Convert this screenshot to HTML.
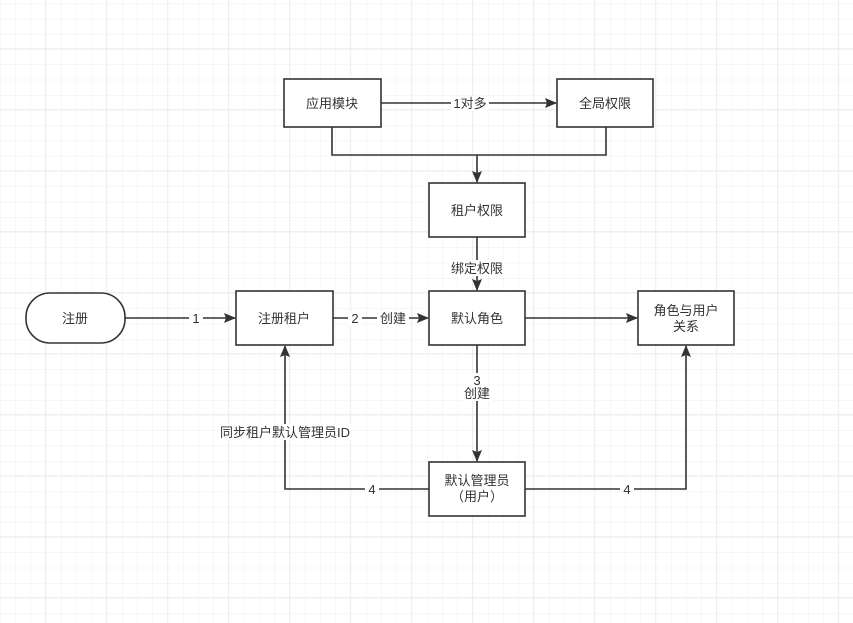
<!DOCTYPE html>
<html><head><meta charset="utf-8"><style>
html,body{margin:0;padding:0;background:#fff;}
svg{display:block;}
text{font-family:"Liberation Sans","Noto Sans CJK SC",sans-serif;font-size:13px;fill:#333;}
</style></head><body>
<svg width="853" height="623" viewBox="0 0 853 623" xmlns="http://www.w3.org/2000/svg">
<defs>
<pattern id="g" x="0.5" y="3.5" width="15.25" height="15.25" patternUnits="userSpaceOnUse">
<path d="M15.25 0V15.25M0 0H15.25" stroke="#efefef" stroke-width="1" fill="none"/>
</pattern>
<pattern id="G" x="-15" y="-12" width="61" height="61" patternUnits="userSpaceOnUse">
<path d="M61 0V61M0 61H61" stroke="#e2e2e2" stroke-width="1" fill="none"/>
</pattern>
<marker id="a" markerWidth="12" markerHeight="12" refX="11" refY="5" orient="auto" markerUnits="userSpaceOnUse">
<path d="M0,0 L12,5 L0,10 L2,5 Z" fill="#333"/>
</marker>
</defs>
<rect width="853" height="623" fill="url(#g)"/>
<rect width="853" height="623" fill="url(#G)"/>
<g stroke="#333" stroke-width="1.6" fill="none">
<path d="M381 103H556" marker-end="url(#a)"/>
<path d="M332 127V155H606V127"/>
<path d="M477 155V182" marker-end="url(#a)"/>
<path d="M477 237V290" marker-end="url(#a)"/>
<path d="M125 318H235" marker-end="url(#a)"/>
<path d="M333 318H428" marker-end="url(#a)"/>
<path d="M525 318H637" marker-end="url(#a)"/>
<path d="M477 345V461" marker-end="url(#a)"/>
<path d="M429 489H285V346" marker-end="url(#a)"/>
<path d="M525 489H686V346" marker-end="url(#a)"/>
</g>
<g fill="#fff" stroke="#333" stroke-width="1.6">
<rect x="284" y="79" width="97" height="48"/>
<rect x="557" y="79" width="96" height="48"/>
<rect x="429" y="183" width="96" height="54"/>
<rect x="236" y="291" width="97" height="54"/>
<rect x="429" y="291" width="96" height="54"/>
<rect x="638" y="291" width="96" height="54"/>
<rect x="429" y="462" width="96" height="54"/>
<rect x="26" y="293" width="99" height="50" rx="24"/>
</g>
<g fill="#fff">
<rect x="451" y="96" width="38" height="15"/>
<rect x="449" y="260" width="56" height="16"/>
<rect x="189" y="311" width="14" height="15"/>
<rect x="348" y="311" width="14" height="15"/>
<rect x="377" y="311" width="32" height="15"/>
<rect x="470" y="373" width="14" height="13"/>
<rect x="463" y="386" width="28" height="15"/>
<rect x="218" y="424" width="134" height="16"/>
<rect x="365" y="482" width="14" height="15"/>
<rect x="620" y="482" width="14" height="15"/>
</g>
<g text-anchor="middle">
<text x="332" y="108">应用模块</text>
<text x="605" y="108">全局权限</text>
<text x="477" y="215">租户权限</text>
<text x="284" y="323">注册租户</text>
<text x="477" y="323">默认角色</text>
<text x="686" y="315">角色与用户</text>
<text x="686" y="331">关系</text>
<text x="477" y="485">默认管理员</text>
<text x="477" y="501">（用户）</text>
<text x="75" y="323">注册</text>
<text x="470" y="108">1对多</text>
<text x="477" y="273">绑定权限</text>
<text x="196" y="323">1</text>
<text x="355" y="323">2</text>
<text x="393" y="323">创建</text>
<text x="477" y="385">3</text>
<text x="477" y="398">创建</text>
<text x="285" y="437">同步租户默认管理员ID</text>
<text x="372" y="494">4</text>
<text x="627" y="494">4</text>
</g>
</svg>
</body></html>
